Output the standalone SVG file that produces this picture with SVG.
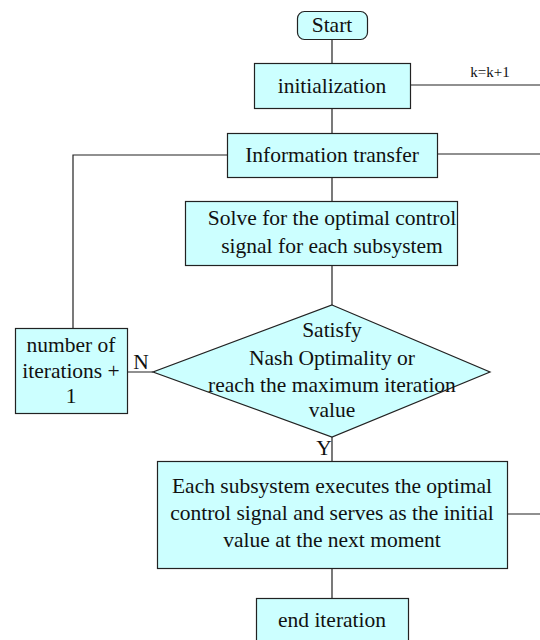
<svg xmlns="http://www.w3.org/2000/svg" width="540" height="640" viewBox="0 0 540 640">
<style>
.box{fill:#ccffff;stroke:#222;stroke-width:1.2}
.ln{stroke:#222;stroke-width:1.2;fill:none}
text{font-family:'Liberation Serif','DejaVu Serif',serif;font-size:21.5px;fill:#111;text-anchor:middle}
.sm{font-size:15px}
</style>
<rect width="540" height="640" fill="#fff"/>
<g id="connectors">
<path class="ln" d="M332 39V63M332 108V133M332 177V201M332 265V305M332 437V461M332 568V598"/>
<path class="ln" d="M410 85H540M437 154H540M507 514H540"/>
<path class="ln" d="M227 155H73V328M127 372H153"/>
<text class="sm" x="490" y="77">k=k+1</text>
<text x="141" y="369">N</text>
<text x="324" y="455">Y</text>
</g>
<g id="start"><rect class="box" x="297.500" y="11.500" width="70" height="28" rx="7"/><text x="332" y="32">Start</text></g>
<g id="init"><rect class="box" x="254.500" y="63.500" width="156" height="45"/><text x="332" y="93">initialization</text></g>
<g id="info"><rect class="box" x="227.500" y="133.500" width="210" height="44"/><text x="332" y="162">Information transfer</text></g>
<g id="solve"><rect class="box" x="185.500" y="201.500" width="272" height="64"/><text x="332" y="225">Solve for the optimal control</text><text x="332" y="253">signal for each subsystem</text></g>
<g id="decision"><polygon class="box" points="332,305 490,372 332,437 153,372"/><text x="332" y="337">Satisfy</text><text x="332" y="365">Nash Optimality or</text><text x="332" y="392">reach the maximum iteration</text><text x="332" y="417">value</text></g>
<g id="counter"><rect class="box" x="15.500" y="328.500" width="112" height="85"/><text x="71" y="352">number of</text><text x="71" y="378">iterations +</text><text x="71" y="403">1</text></g>
<g id="execute"><rect class="box" x="157.500" y="461.500" width="350" height="107"/><text x="332" y="493">Each subsystem executes the optimal</text><text x="332" y="520">control signal and serves as the initial</text><text x="332" y="547">value at the next moment</text></g>
<g id="end"><rect class="box" x="256.500" y="598.500" width="152" height="50"/><text x="332" y="627">end iteration</text></g>
</svg>
